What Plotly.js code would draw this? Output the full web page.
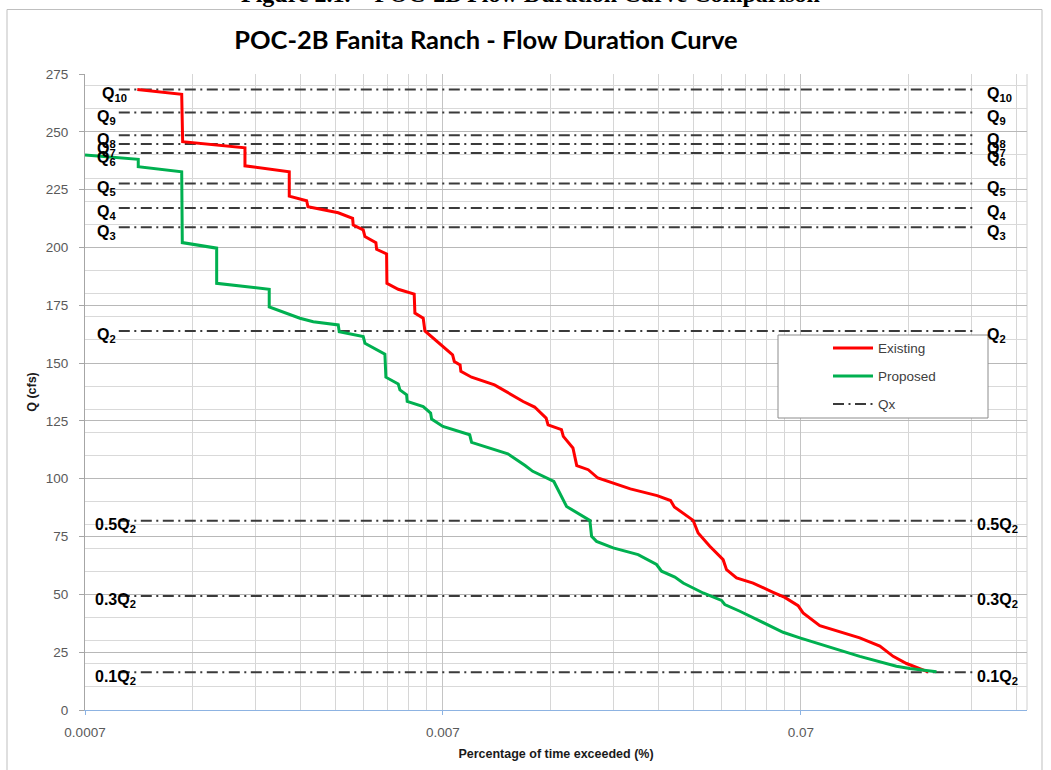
<!DOCTYPE html>
<html><head><meta charset="utf-8">
<script src="https://cdn.plot.ly/plotly-3.0.1.min.js"></script>
<style>html,body{margin:0;padding:0;background:#fff}#chart{width:1051px;height:770px}</style>
</head><body><div id="chart"></div>
<script>
// ---- data ----
const existingX = [0.00098, 0.001304, 0.001312, 0.001959, 0.001959, 0.002605, 0.002605, 0.002913, 0.002938, 0.00357,
  0.003916, 0.003931, 0.004192, 0.004239, 0.004549, 0.00457, 0.004873, 0.004883, 0.005251, 0.00582,
  0.005846, 0.006167, 0.006235, 0.007169, 0.00745, 0.007532, 0.007818, 0.007858, 0.008419, 0.009755,
  0.01173, 0.01263, 0.0136, 0.01377, 0.01501, 0.01519, 0.01616, 0.01656, 0.01783, 0.01897,
  0.02338, 0.02778, 0.03028, 0.03103, 0.03502, 0.03616, 0.03898, 0.04247, 0.04341, 0.04629,
  0.05151, 0.05858, 0.06315, 0.0688, 0.07104, 0.0791, 0.1023, 0.1164, 0.1268, 0.1382, 0.1587];
const existingY = [268.3, 266.2, 245.7, 243.1, 235.3, 232.7, 222.2, 220.2, 217.6, 215.0,
  212.6, 209.7, 207.6, 204.7, 202.1, 199.2, 197.2, 184.5, 181.9, 179.8,
  171.6, 169.4, 163.9, 156.0, 153.6, 150.7, 149.2, 146.4, 143.9, 140.6,
  133.4, 131.0, 126.2, 123.3, 121.2, 118.3, 113.3, 105.7, 103.9, 100.3,
  95.6, 92.7, 90.6, 87.8, 82.0, 76.5, 70.8, 65.0, 60.7, 57.1,
  54.9, 50.9, 48.7, 45.1, 42.0, 36.5, 31.2, 27.6, 23.2, 20.1, 16.5];

const proposedX = [0.0007, 0.000986, 0.000986, 0.001304, 0.001309, 0.001633, 0.001633, 0.00229, 0.00229, 0.00279,
  0.00304, 0.00357, 0.003593, 0.004192, 0.004239, 0.00482, 0.004851, 0.005251, 0.005309, 0.005542,
  0.005564, 0.006167, 0.006468, 0.006509, 0.007, 0.008317, 0.008419, 0.01063, 0.01188, 0.01248,
  0.01429, 0.01483, 0.01551, 0.01802, 0.01822, 0.01881, 0.02093, 0.02458, 0.02767, 0.02858,
  0.03113, 0.03284, 0.03734, 0.04203, 0.04293, 0.04729, 0.05377, 0.06247, 0.06955, 0.08259,
  0.1023, 0.1295, 0.1411, 0.1676];
const proposedY = [240.0, 238.1, 234.9, 232.7, 202.1, 199.7, 184.5, 181.9, 174.3, 169.4,
  167.9, 166.5, 163.6, 161.5, 158.6, 153.9, 143.9, 141.0, 138.4, 136.3,
  133.4, 131.2, 128.4, 125.8, 122.6, 119.0, 115.7, 110.8, 105.7, 103.2,
  98.8, 93.8, 88.0, 82.0, 75.1, 72.9, 70.1, 67.2, 62.9, 60.0,
  57.5, 54.9, 50.6, 47.4, 45.6, 42.7, 38.4, 33.6, 31.2, 27.6,
  23.2, 18.9, 17.9, 16.5];

const qLabels = ['Q<sub>10</sub>', 'Q<sub>9</sub>', 'Q<sub>8</sub>', 'Q<sub>7</sub>', 'Q<sub>6</sub>', 'Q<sub>5</sub>',
  'Q<sub>4</sub>', 'Q<sub>3</sub>', 'Q<sub>2</sub>', '0.5Q<sub>2</sub>', '0.3Q<sub>2</sub>', '0.1Q<sub>2</sub>'];
const qValues = [268.3, 258.3, 248.5, 244.7, 240.8, 227.6, 217.1, 208.7, 163.9, 81.8, 49.3, 16.3];
const qLineX = [0.00087, 0.212];

const seriesNames = ['Existing', 'Proposed', 'Qx'];
const xTickVals = [0.0007, 0.007, 0.07];
const xTickText = ['0.0007', '0.007', '0.07'];
const yTickVals = [0, 25, 50, 75, 100, 125, 150, 175, 200, 225, 250, 275];

// ---- styling helpers ----
const RED = '#ff0000', GREEN = '#00b050', QCOL = '#3a3a3a';
const QDASH = '11px,4.5px,2px,4.5px';
const L = 85, R = 1027, T = 74, B = 710;
const px2x = p => (p - L) / (R - L);
const py2y = p => (B - p) / (B - T);

const xMinor = [];
xTickVals.forEach(d => { for (let k = 2; k <= 9; k++) { if (d * k < 0.3) xMinor.push(d * k); } });
const yMinor = [];
for (let v = 10; v <= 270; v += 10) yMinor.push(v);

const traces = [];
qValues.forEach((q, i) => {
  traces.push({
    type: 'scatter', mode: 'lines', name: seriesNames[2],
    x: qLineX, y: [q, q], showlegend: false, hoverinfo: 'skip',
    line: {color: QCOL, width: 2, dash: QDASH}
  });
});
traces.push({type: 'scatter', mode: 'lines', name: seriesNames[0], x: existingX, y: existingY,
  showlegend: false, line: {color: RED, width: 3}});
traces.push({type: 'scatter', mode: 'lines', name: seriesNames[1], x: proposedX, y: proposedY,
  showlegend: false, line: {color: GREEN, width: 3}});

const labFont = {family: 'Liberation Sans, Arial, sans-serif', size: 16, color: '#000', weight: 'bold'};
const annotations = [];
qLabels.forEach((lab, i) => {
  const isFrac = lab.startsWith('0.');
  const leftPx = (i === 0) ? 100 : (isFrac ? 93 : 95);
  const rightPx = isFrac ? 975 : 985;
  annotations.push({xref: 'paper', yref: 'y', x: px2x(leftPx), y: qValues[i], text: lab, showarrow: false,
    xanchor: 'left', yanchor: 'middle', yshift: -5, font: labFont});
  annotations.push({xref: 'paper', yref: 'y', x: px2x(rightPx), y: qValues[i], text: lab, showarrow: false,
    xanchor: 'left', yanchor: 'middle', yshift: -5, font: labFont});
});

// caption (cut at top of page, as in the reference)
annotations.push({xref: 'paper', yref: 'paper', x: px2x(530), y: py2y(9), xanchor: 'center', yanchor: 'bottom',
  showarrow: false, text: 'Figure 2.1. \u2013 POC-2B Flow Duration Curve Comparison',
  font: {family: 'Liberation Serif, Times New Roman, serif', size: 24, color: '#000', weight: 'bold'}});

// manual legend
const legRows = [348, 376, 404];
const legFont = {family: 'Liberation Sans, Arial, sans-serif', size: 13.5, color: '#404040'};
seriesNames.forEach((n, i) => {
  annotations.push({xref: 'paper', yref: 'paper', x: px2x(876), y: py2y(legRows[i]), xanchor: 'left', yanchor: 'middle',
    showarrow: false, text: n, font: legFont});
});

const shapes = [
  {type: 'rect', xref: 'paper', yref: 'paper', x0: px2x(7), x1: px2x(1042), y0: py2y(790), y1: py2y(9.5),
    line: {color: '#bfbfbf', width: 1}, fillcolor: 'rgba(0,0,0,0)', layer: 'below'},
  {type: 'line', xref: 'paper', yref: 'paper', x0: 1, x1: 1, y0: 0, y1: 1, line: {color: '#d0d0d0', width: 1}, layer: 'below'},
  {type: 'rect', xref: 'paper', yref: 'paper', x0: px2x(778), x1: px2x(988), y0: py2y(418), y1: py2y(335),
    line: {color: '#8c8c8c', width: 1}, fillcolor: '#ffffff', layer: 'above'},
  {type: 'line', xref: 'paper', yref: 'paper', x0: px2x(833), x1: px2x(873), y0: py2y(legRows[0]), y1: py2y(legRows[0]),
    line: {color: RED, width: 3}},
  {type: 'line', xref: 'paper', yref: 'paper', x0: px2x(833), x1: px2x(873), y0: py2y(legRows[1]), y1: py2y(legRows[1]),
    line: {color: GREEN, width: 3}},
  {type: 'line', xref: 'paper', yref: 'paper', x0: px2x(833), x1: px2x(873), y0: py2y(legRows[2]), y1: py2y(legRows[2]),
    line: {color: QCOL, width: 2, dash: QDASH}}
];

const tickFont = {family: 'Liberation Sans, Arial, sans-serif', size: 13.5, color: '#595959'};
const layout = {
  width: 1051, height: 770,
  margin: {l: L, r: 1051 - R, t: T, b: 770 - B, pad: 0},
  paper_bgcolor: '#ffffff', plot_bgcolor: '#ffffff',
  showlegend: false,
  title: {text: 'POC-2B Fanita Ranch - Flow Duration Curve', xref: 'container', yref: 'container',
    x: 486 / 1051, y: 1 - 40 / 770, xanchor: 'center', yanchor: 'middle',
    font: {family: 'Lato, Liberation Sans, sans-serif', size: 25.5, color: '#000', weight: 'bold'}},
  xaxis: {
    type: 'log', range: [Math.log10(0.0007), Math.log10(0.3)],
    tickmode: 'array', tickvals: xTickVals, ticktext: xTickText,
    showgrid: true, gridcolor: '#c4c4c4', gridwidth: 1,
    minor: {tickmode: 'array', tickvals: xMinor, showgrid: true, gridcolor: '#d6d6d6', gridwidth: 1, ticks: ''},
    showline: true, linecolor: '#8db3e2', linewidth: 1,
    ticks: 'outside', ticklen: 4, tickcolor: '#8db3e2',
    tickfont: tickFont, ticklabelstandoff: 6, zeroline: false,
    title: {text: 'Percentage of time exceeded (%)', standoff: 10,
      font: {family: 'Liberation Sans, Arial, sans-serif', size: 12.5, color: '#1a1a1a', weight: 'bold'}}
  },
  yaxis: {
    range: [0, 275], tickmode: 'array', tickvals: yTickVals,
    showgrid: true, gridcolor: '#b8b8b8', gridwidth: 1,
    minor: {tickmode: 'array', tickvals: yMinor, showgrid: true, gridcolor: '#d9d9d9', gridwidth: 1, ticks: ''},
    showline: true, linecolor: '#a6a6a6', linewidth: 1,
    ticks: 'outside', ticklen: 5, tickcolor: '#a6a6a6',
    tickfont: tickFont, ticklabelstandoff: 8, zeroline: false,
    title: {text: 'Q (cfs)', standoff: 6,
      font: {family: 'Liberation Sans, Arial, sans-serif', size: 12.5, color: '#1a1a1a', weight: 'bold'}}
  },
  annotations: annotations,
  shapes: shapes
};

Plotly.newPlot('chart', traces, layout, {displayModeBar: false, staticPlot: true});
</script>
</body></html>
